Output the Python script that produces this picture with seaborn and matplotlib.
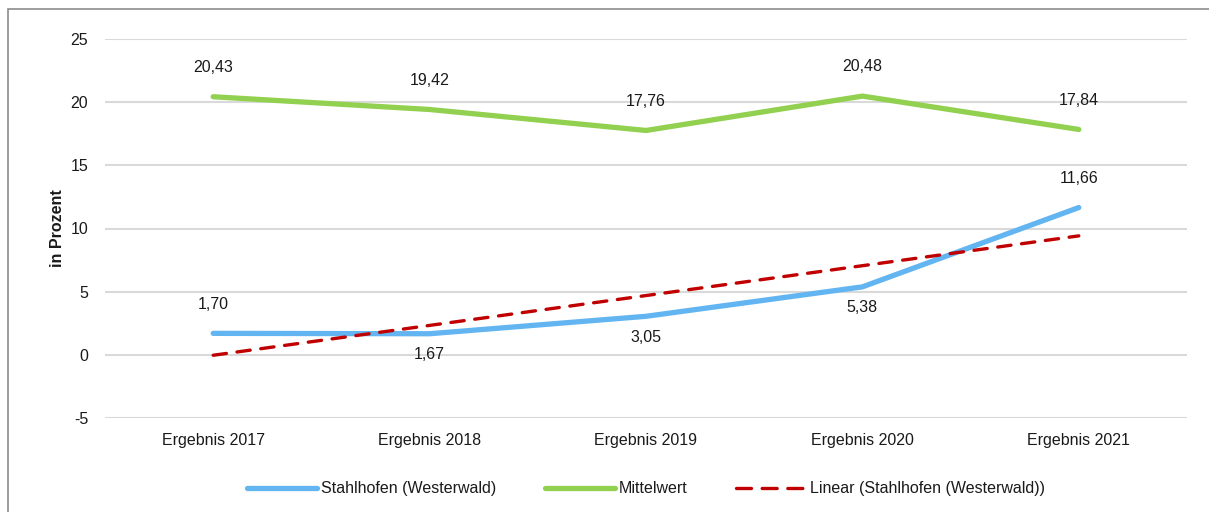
import numpy as np
import pandas as pd
import matplotlib
matplotlib.use("Agg")
import matplotlib.pyplot as plt
import seaborn as sns
from matplotlib.patches import Rectangle

categories = ["Ergebnis 2017", "Ergebnis 2018", "Ergebnis 2019", "Ergebnis 2020", "Ergebnis 2021"]
stahlhofen = [1.70, 1.67, 3.05, 5.38, 11.66]
mittelwert = [20.43, 19.42, 17.76, 20.48, 17.84]
stahl_label_pos = ["above", "below", "below", "below", "above"]
yticks = [-5, 0, 5, 10, 15, 20, 25]

sns.set_style("white")
plt.rcParams['font.family'] = ['Liberation Sans Narrow', 'Liberation Sans', 'DejaVu Sans']

x = np.arange(len(categories))
coef = np.polyfit(x, stahlhofen, 1)
trend = np.polyval(coef, x)

df = pd.DataFrame({"Kategorie": categories, "x": x,
                   "Stahlhofen (Westerwald)": stahlhofen,
                   "Mittelwert": mittelwert,
                   "Linear (Stahlhofen (Westerwald))": trend})

fig = plt.figure(figsize=(12.09, 5.12), dpi=100)
ax = fig.add_axes([105/1209, 1-418/512, (1187-105)/1209, (418-39)/512])

blue = "#63B5F2"
green = "#92D050"
red = "#C00000"
fs = 11.5
tc = "#1a1a1a"

sns.lineplot(data=df, x="x", y="Stahlhofen (Westerwald)", ax=ax, color=blue, lw=3.8,
             label="Stahlhofen (Westerwald)", solid_capstyle="round")
sns.lineplot(data=df, x="x", y="Mittelwert", ax=ax, color=green, lw=3.8,
             label="Mittelwert", solid_capstyle="round")
sns.lineplot(data=df, x="x", y="Linear (Stahlhofen (Westerwald))", ax=ax, color=red, lw=2.4,
             label="Linear (Stahlhofen (Westerwald))", dashes=False)
ax.lines[-1].set_dashes([4, 3.2])
ax.lines[-1].set_dash_capstyle("round")

def fmt(v):
    return f"{v:.2f}".replace(".", ",")

for xi, v in zip(x, mittelwert):
    ax.annotate(fmt(v), (xi, v), xytext=(0, 21), textcoords="offset points",
                ha="center", va="center", fontsize=fs, color=tc)
for xi, v, pos in zip(x, stahlhofen, stahl_label_pos):
    off = 21 if pos == "above" else -15
    ax.annotate(fmt(v), (xi, v), xytext=(0, off), textcoords="offset points",
                ha="center", va="center", fontsize=fs, color=tc)

ax.set_xlim(-0.5, 4.5)
ax.set_ylim(-5, 25)
ax.set_yticks(yticks)
ax.set_yticklabels([str(t) for t in yticks], fontsize=fs, color=tc)
ax.set_xticks(x)
ax.set_xticklabels(categories, fontsize=fs, color=tc)
ax.tick_params(axis="both", length=0)
ax.tick_params(axis="y", pad=12)
ax.tick_params(axis="x", pad=11)
ax.grid(axis="y", color="#D9D9D9", lw=1.5)
ax.set_axisbelow(True)
for s in ax.spines.values():
    s.set_visible(False)
ax.set_xlabel("")
ax.set_ylabel("in Prozent", fontsize=fs, fontweight="bold", color=tc, labelpad=4)

leg = ax.legend(loc="center", bbox_to_anchor=(0.5, -0.187), ncol=3, frameon=False,
                fontsize=fs, handlelength=4.4, columnspacing=3.0, handletextpad=0.25)
for t in leg.get_texts():
    t.set_color(tc)
for h in leg.get_lines()[2:]:
    h.set_dashes([4.5, 3.2])

fig.patches.append(Rectangle((8/1209, -0.1), 1.2, 1 - 9/512 + 0.1, transform=fig.transFigure,
                             fill=False, edgecolor="#8C8C8C", lw=1.2))

fig.savefig("out.png", dpi=100)
